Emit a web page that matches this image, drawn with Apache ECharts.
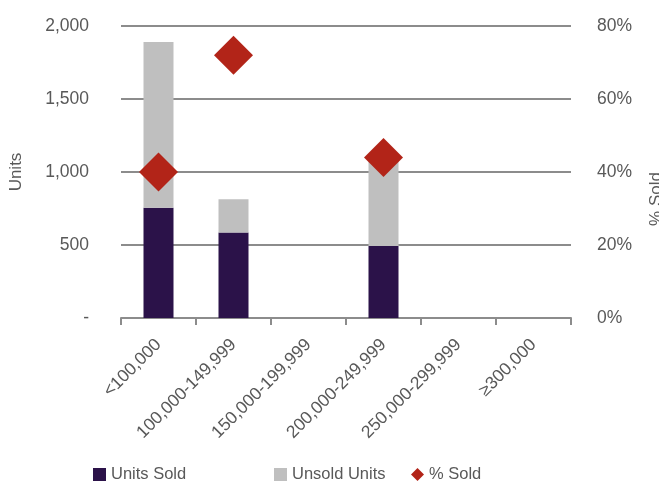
<!DOCTYPE html>
<html>
<head>
    <meta charset="utf-8">
    <title>Units Sold</title>
    <script src="https://cdn.jsdelivr.net/npm/echarts@6/dist/echarts.min.js"></script>
</head>
<body style="margin:0">
<div id="main" style="height: 483px; width: 659px;"></div>
<script type="text/javascript">
    var categories = ['<100,000', '100,000-149,999', '150,000-199,999', '200,000-249,999', '250,000-299,999', '\u2265300,000'];
    var unitsSold = [755, 585, '-', 493, '-', '-'];
    var unsoldUnits = [1135, 228, '-', 625, '-', '-'];
    var pctSold = [40, 72, '-', 44, '-', '-'];

    var grey = '#595959';
    var font = 'Liberation Sans, Arial, sans-serif';
    var myChart = echarts.init(document.getElementById('main'));

    function legendAt(left, name, icon) {
        return {
            left: left, top: 461, data: [{ name: name, icon: icon }],
            itemWidth: 13, itemHeight: 13, itemGap: 6,
            textStyle: { color: grey, fontSize: 16.5, fontFamily: font }
        };
    }

    var option = {
        backgroundColor: '#fff',
        animation: false,
        textStyle: { fontFamily: font },
        legend: [
            legendAt(88, 'Units Sold', 'rect'),
            legendAt(269, 'Unsold Units', 'rect'),
            legendAt(406, '% Sold', 'diamond')
        ],
        grid: { left: 121, right: 88, top: 26, bottom: 165, outerBoundsMode: 'none', containLabel: false },
        xAxis: {
            type: 'category',
            data: categories,
            axisLine: { lineStyle: { color: '#8c8c8c', width: 2 } },
            axisTick: { show: true, length: 7, lineStyle: { color: '#8c8c8c', width: 2 } },
            axisLabel: { rotate: 45, color: grey, fontSize: 17.5, margin: 24, interval: 0 }
        },
        yAxis: [{
            type: 'value', min: 0, max: 2000, interval: 500,
            name: 'Units', nameLocation: 'middle', nameGap: 96, nameRotate: 90,
            nameTextStyle: { color: grey, fontSize: 17 },
            axisLine: { show: false }, axisTick: { show: false },
            splitLine: { lineStyle: { color: '#8c8c8c', width: 2 } },
            axisLabel: {
                color: grey, fontSize: 17.5, margin: 32,
                formatter: function (v) { return v === 0 ? '-' : v.toLocaleString('en-US'); }
            }
        }, {
            type: 'value', min: 0, max: 80, interval: 20,
            name: '% Sold', nameLocation: 'middle', nameGap: 77, nameRotate: 90,
            nameTextStyle: { color: grey, fontSize: 17, padding: [0, 54, 0, 0] },
            axisLine: { show: false }, axisTick: { show: false },
            splitLine: { show: false },
            axisLabel: { color: grey, fontSize: 17.5, margin: 26, formatter: '{value}%' }
        }],
        series: [{
            name: 'Units Sold', type: 'bar', stack: 'units', barWidth: '40%',
            itemStyle: { color: '#2b1249' }, data: unitsSold
        }, {
            name: 'Unsold Units', type: 'bar', stack: 'units', barWidth: '40%',
            itemStyle: { color: '#bfbfbf' }, data: unsoldUnits
        }, {
            name: '% Sold', type: 'scatter', yAxisIndex: 1, symbol: 'diamond', symbolSize: 39,
            itemStyle: { color: '#b22418', opacity: 1 }, data: pctSold, z: 5
        }]
    };

    myChart.setOption(option);
</script>
</body>
</html>
